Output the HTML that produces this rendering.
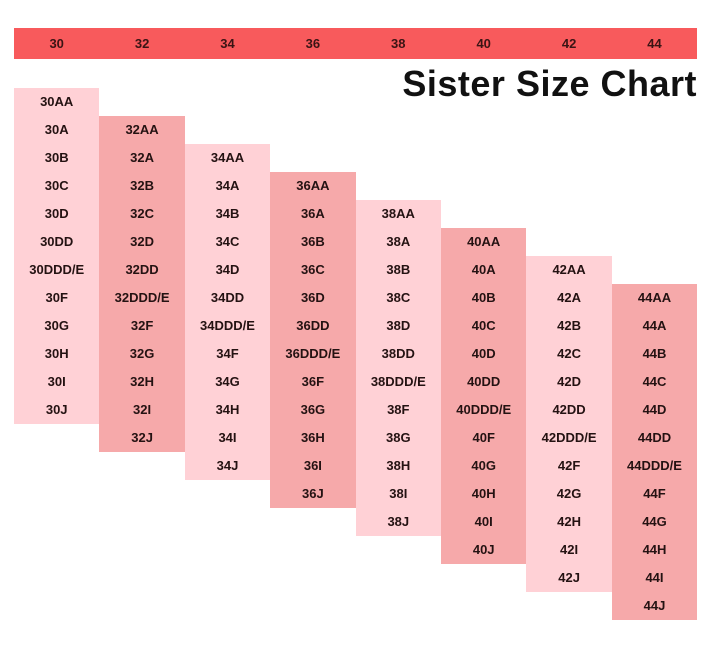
<!DOCTYPE html><html><head><style>
body{margin:0;width:720px;height:647px;background:#fff;position:relative;font-family:"Liberation Sans",sans-serif;overflow:hidden}
.bar{position:absolute;left:14px;top:28px;width:683px;height:31px;background:#f85a5c}
.bar div{position:absolute;top:0;width:85.4px;text-align:center;line-height:31px;font-weight:bold;font-size:13px;color:#3a1414}
.col{position:absolute;width:85.4px}
.col div{height:28px;line-height:28px;text-align:center;font-weight:bold;font-size:13px;color:#241212}
.l{background:#ffd1d6}.d{background:#f6a9aa}
h1{position:absolute;right:23px;top:63px;margin:0;font-size:36px;font-weight:bold;color:#111;letter-spacing:0.5px}
</style></head><body>
<div class="bar" id="bar"></div>
<h1>Sister Size Chart</h1>
<div id="cols"></div>
<script>
var sizes=[30,32,34,36,38,40,42,44],cups=["AA","A","B","C","D","DD","DDD/E","F","G","H","I","J"];
var b=document.getElementById("bar"),c=document.getElementById("cols"),h="",g="";
sizes.forEach(function(s,i){
h+='<div style="left:'+(i*85.4)+'px">'+s+'</div>';
g+='<div class="col '+(i%2?'d':'l')+'" style="left:'+(14+i*85.4)+'px;top:'+(88+28*i)+'px">';
cups.forEach(function(u){g+='<div>'+s+u+'</div>'});g+='</div>';});
b.innerHTML=h;c.innerHTML=g;
</script>
</body></html>
